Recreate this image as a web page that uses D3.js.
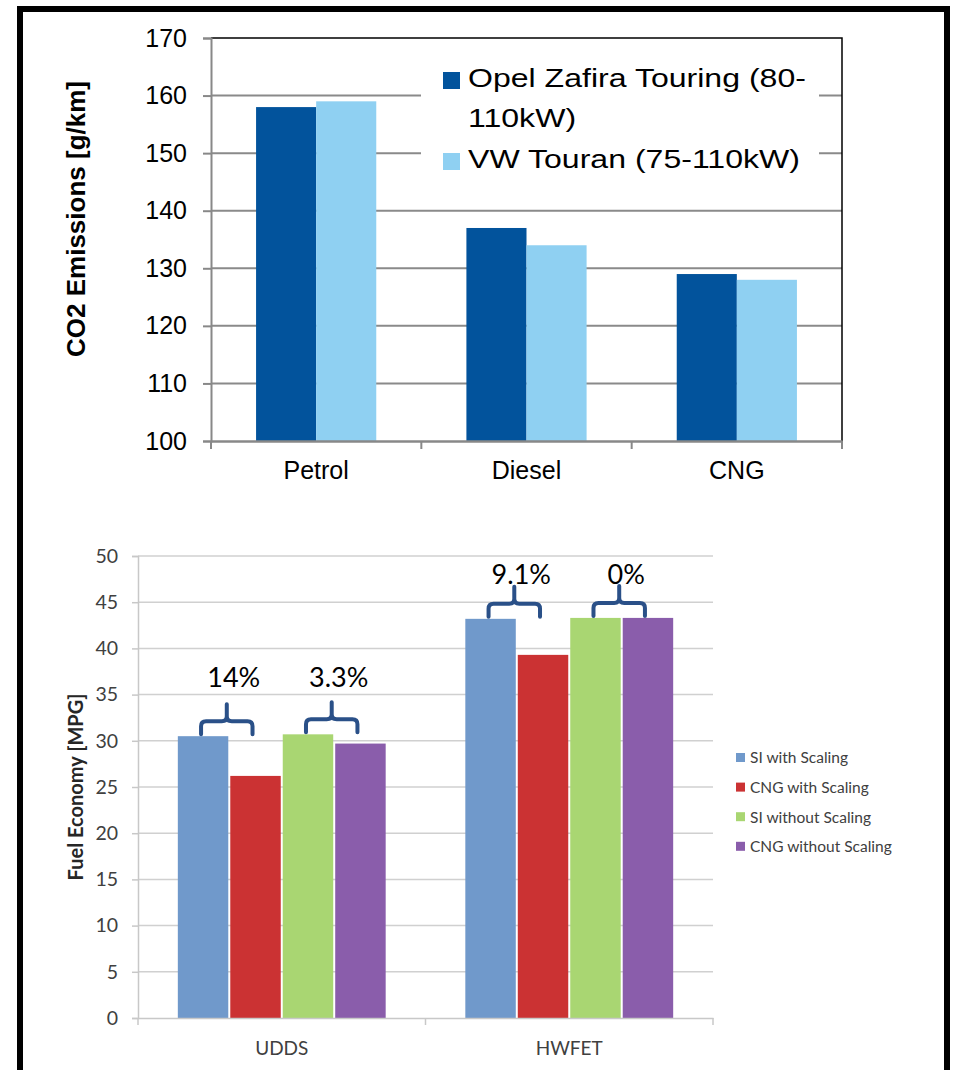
<!DOCTYPE html>
<html>
<head>
<meta charset="utf-8">
<script src="https://cdn.jsdelivr.net/npm/d3@7"></script>
<style>
  body { margin: 0; background: #fff; }
  svg { display: block; }
</style>
</head>
<body>
<svg id="chart" width="954" height="1070"></svg>
<script>
// top chart: CO2 emissions
var fuelTypes = ["Petrol", "Diesel", "CNG"];
var carModels = ["Opel Zafira Touring (80-110kW)", "VW Touran (75-110kW)"];
var zafiraCO2 = [158, 137, 129];
var touranCO2 = [159, 134, 128];
var co2Ticks = [100, 110, 120, 130, 140, 150, 160, 170];

// bottom chart: fuel economy
var cycles = ["UDDS", "HWFET"];
var mpgSeries = ["SI with Scaling", "CNG with Scaling", "SI without Scaling", "CNG without Scaling"];
var siScaled = [30.5, 43.2];
var cngScaled = [26.2, 39.3];
var siUnscaled = [30.7, 43.3];
var cngUnscaled = [29.7, 43.3];
var mpgTicks = [0, 5, 10, 15, 20, 25, 30, 35, 40, 45, 50];
// brace annotations: cycle, the two series compared, text, height of text (MPG)
var gapNotes = [
  { cycle: "UDDS", from: 0, to: 1, text: "14%", at: 35.8 },
  { cycle: "UDDS", from: 2, to: 3, text: "3.3%", at: 35.8 },
  { cycle: "HWFET", from: 0, to: 1, text: "9.1%", at: 47.0 },
  { cycle: "HWFET", from: 2, to: 3, text: "0%", at: 47.0 }
];

var svg = d3.select("#chart");
svg.append("rect").attr("width", 954).attr("height", 1070).attr("fill", "#fff");

// outer frame (runs off the bottom of the picture)
svg.append("rect")
  .attr("x", 20).attr("y", 9)
  .attr("width", 927).attr("height", 1100)
  .attr("fill", "none").attr("stroke", "#000").attr("stroke-width", 6);

drawTop();
drawBottom();

function drawTop() {
  var left = 211, right = 842, top = 38, bottom = 441;
  var font = "'Liberation Sans', Arial, sans-serif";
  var g = svg.append("g");

  var y = d3.scaleLinear().domain([100, 170]).range([bottom, top]);
  var x0 = d3.scaleBand().domain(fuelTypes).range([left, right]);
  var x1 = d3.scaleBand().domain(carModels).range([0, x0.bandwidth()]).paddingOuter(0.75);
  var color = d3.scaleOrdinal().domain(carModels).range(["#02539c", "#8fd0f2"]);

  var rows = fuelTypes.map(function (f, i) {
    return { cat: f, vals: [zafiraCO2[i], touranCO2[i]] };
  });

  // gridlines
  g.append("g").selectAll("line")
    .data(co2Ticks.filter(function (t) { return t > 100 && t < 170; }))
    .enter().append("line")
    .attr("x1", left).attr("x2", right)
    .attr("y1", function (d) { return y(d); })
    .attr("y2", function (d) { return y(d); })
    .attr("stroke", "#8a8a8a").attr("stroke-width", 2);

  // plot border top/right
  g.append("path")
    .attr("d", "M" + left + "," + top + "H" + right + "V" + bottom)
    .attr("fill", "none").attr("stroke", "#000").attr("stroke-width", 1.5);

  // bars
  g.append("g").selectAll("g")
    .data(rows).enter().append("g")
    .attr("transform", function (d) { return "translate(" + x0(d.cat) + ",0)"; })
    .selectAll("rect")
    .data(function (d) { return d.vals.map(function (v, k) { return { s: carModels[k], v: v }; }); })
    .enter().append("rect")
    .attr("x", function (d) { return x1(d.s); })
    .attr("width", x1.bandwidth())
    .attr("y", function (d) { return y(d.v); })
    .attr("height", function (d) { return bottom - y(d.v); })
    .attr("fill", function (d) { return color(d.s); });

  // y axis
  var yAxis = g.append("g")
    .attr("transform", "translate(" + left + ",0)")
    .call(d3.axisLeft(y).tickValues(co2Ticks).tickSize(8).tickPadding(16));
  yAxis.select(".domain").attr("stroke", "#888").attr("stroke-width", 2);
  yAxis.selectAll(".tick line").attr("stroke", "#888").attr("stroke-width", 2);
  yAxis.selectAll(".tick text")
    .attr("font-family", font).attr("font-size", 25).attr("fill", "#000");

  // x axis
  var xAxis = g.append("g")
    .attr("transform", "translate(0," + bottom + ")")
    .call(d3.axisBottom(x0).tickSize(0).tickPadding(20));
  xAxis.select(".domain").attr("stroke", "#888").attr("stroke-width", 2.5);
  xAxis.selectAll(".tick text")
    .attr("font-family", font).attr("font-size", 25).attr("fill", "#000");
  xAxis.selectAll(".sep")
    .data(x0.domain().map(function (d) { return x0(d); }).concat([right]))
    .enter().append("line").attr("class", "sep")
    .attr("x1", function (d) { return d; }).attr("x2", function (d) { return d; })
    .attr("y1", 0).attr("y2", 8)
    .attr("stroke", "#888").attr("stroke-width", 2);

  // y title
  g.append("text")
    .attr("transform", "translate(85,219) rotate(-90)")
    .attr("text-anchor", "middle")
    .attr("font-family", font).attr("font-size", 26).attr("font-weight", "bold")
    .text("CO2 Emissions [g/km]");

  // legend
  var lg = g.append("g");
  lg.append("rect").attr("x", 421).attr("y", 58).attr("width", 398).attr("height", 135).attr("fill", "#fff");
  var lines = [["Opel Zafira Touring (80-", "110kW)"], ["VW Touran (75-110kW)"]];
  var baseY = [87, 168];
  carModels.forEach(function (m, i) {
    lg.append("rect")
      .attr("x", 443).attr("y", baseY[i] - 15).attr("width", 17).attr("height", 17)
      .attr("fill", color(m));
    var t = lg.append("text")
      .attr("transform", "translate(468," + baseY[i] + ") scale(1.21,1)")
      .attr("font-family", font).attr("font-size", 26.5).attr("fill", "#000");
    lines[i].forEach(function (s, j) {
      t.append("tspan").attr("x", 0).attr("y", j * 40).text(s);
    });
  });
}

function drawBottom() {
  var left = 138, right = 713, top = 556, bottom = 1018;
  var font = "Lato, 'Open Sans', sans-serif";
  var g = svg.append("g");

  var y = d3.scaleLinear().domain([0, 50]).range([bottom, top]);
  var x0 = d3.scaleBand().domain(cycles).range([left, right]);
  var x1 = d3.scaleBand().domain(mpgSeries).range([0, x0.bandwidth()]).paddingOuter(0.74);
  var color = d3.scaleOrdinal().domain(mpgSeries).range(["#7099cb", "#cb3233", "#a9d672", "#8a5dab"]);

  var allVals = [siScaled, cngScaled, siUnscaled, cngUnscaled];
  var rows = cycles.map(function (c, i) {
    return { cat: c, vals: allVals.map(function (a) { return a[i]; }) };
  });

  // gridlines
  g.append("g").selectAll("line")
    .data(mpgTicks.filter(function (t) { return t > 0; }))
    .enter().append("line")
    .attr("x1", left).attr("x2", right)
    .attr("y1", function (d) { return y(d); })
    .attr("y2", function (d) { return y(d); })
    .attr("stroke", "#d0d0d0").attr("stroke-width", 1.5);

  // bars
  g.append("g").selectAll("g")
    .data(rows).enter().append("g")
    .attr("transform", function (d) { return "translate(" + x0(d.cat) + ",0)"; })
    .selectAll("rect")
    .data(function (d) { return d.vals.map(function (v, k) { return { s: mpgSeries[k], v: v }; }); })
    .enter().append("rect")
    .attr("x", function (d) { return x1(d.s) + 1; })
    .attr("width", x1.bandwidth() - 2)
    .attr("y", function (d) { return y(d.v); })
    .attr("height", function (d) { return bottom - y(d.v); })
    .attr("fill", function (d) { return color(d.s); });

  // y axis
  var yAxis = g.append("g")
    .attr("transform", "translate(" + left + ",0)")
    .call(d3.axisLeft(y).tickValues(mpgTicks).tickSize(6).tickPadding(14));
  yAxis.select(".domain").attr("stroke", "#c8c8c8").attr("stroke-width", 1.5);
  yAxis.selectAll(".tick line").attr("stroke", "#c8c8c8").attr("stroke-width", 1.5);
  yAxis.selectAll(".tick text")
    .attr("font-family", font).attr("font-size", 19.5).attr("fill", "#404040");

  // x axis
  var xAxis = g.append("g")
    .attr("transform", "translate(0," + bottom + ")")
    .call(d3.axisBottom(x0).tickSize(0).tickPadding(24));
  xAxis.select(".domain").attr("stroke", "#c8c8c8").attr("stroke-width", 1.5);
  xAxis.selectAll(".tick text")
    .attr("font-family", font).attr("font-size", 19).attr("fill", "#404040");
  xAxis.selectAll(".sep")
    .data(x0.domain().map(function (d) { return x0(d); }).concat([right]))
    .enter().append("line").attr("class", "sep")
    .attr("x1", function (d) { return d; }).attr("x2", function (d) { return d; })
    .attr("y1", 0).attr("y2", 7)
    .attr("stroke", "#c8c8c8").attr("stroke-width", 1.5);

  // y title
  g.append("text")
    .attr("transform", "translate(83,787) rotate(-90)")
    .attr("text-anchor", "middle")
    .attr("font-family", font).attr("font-size", 20).attr("font-weight", "bold")
    .attr("fill", "#262626")
    .text("Fuel Economy [MPG]");

  // braces and percentage labels
  var ng = g.append("g");
  gapNotes.forEach(function (n) {
    var i = cycles.indexOf(n.cycle);
    var xa = x0(n.cycle) + x1(mpgSeries[n.from]) + x1.bandwidth() / 2 - 2;
    var xb = x0(n.cycle) + x1(mpgSeries[n.to]) + x1.bandwidth() / 2 - 3;
    var xm = (xa + xb) / 2;
    var yb = y(Math.max(allVals[n.from][i], allVals[n.to][i])) - 2;
    var yh = yb - 13, yp = yb - 30, r = 5;
    var p = "M" + xa + "," + yb +
      "V" + (yh + r) + "Q" + xa + "," + yh + " " + (xa + r) + "," + yh +
      "H" + (xm - r) + "Q" + xm + "," + yh + " " + xm + "," + (yh - r) +
      "V" + yp +
      "M" + xm + "," + (yh - r) + "Q" + xm + "," + yh + " " + (xm + r) + "," + yh +
      "H" + (xb - r) + "Q" + xb + "," + yh + " " + xb + "," + (yh + r) +
      "V" + yb;
    ng.append("path").attr("d", p)
      .attr("fill", "none").attr("stroke", "#2a5088").attr("stroke-width", 4)
      .attr("stroke-linecap", "round").attr("stroke-linejoin", "round");
    ng.append("text")
      .attr("x", xm + 7).attr("y", y(n.at))
      .attr("text-anchor", "middle")
      .attr("font-family", font).attr("font-size", 27).attr("fill", "#000")
      .text(n.text);
  });

  // legend
  var lg = g.append("g").attr("transform", "translate(736,758)");
  var items = lg.selectAll("g").data(mpgSeries).enter().append("g")
    .attr("transform", function (d, i) { return "translate(0," + (i * 29.6) + ")"; });
  items.append("rect").attr("x", 0).attr("y", -5).attr("width", 9).attr("height", 9)
    .attr("fill", function (d) { return color(d); });
  items.append("text").attr("x", 14).attr("y", 0).attr("dy", "0.35em")
    .attr("font-family", font).attr("font-size", 15.5).attr("fill", "#404040")
    .text(function (d) { return d; });
}
</script>
</body>
</html>
